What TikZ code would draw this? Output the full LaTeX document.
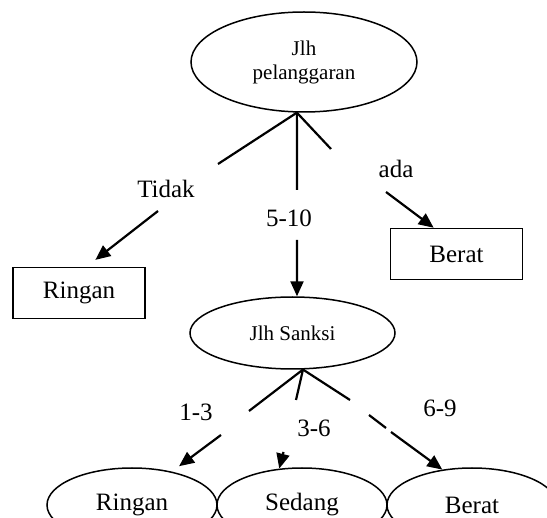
\documentclass[tikz,border=0pt]{standalone}
\usepackage{fontspec}
\setmainfont{Liberation Serif}
\usetikzlibrary{shapes.geometric,arrows.meta}
\begin{document}
\begin{tikzpicture}[x=0.5pt,y=-0.5pt,line cap=butt,line join=miter,>={Triangle[length=7.5pt,width=6.5pt]},font=\fontsize{12.5}{15}\selectfont]
	\tikzset{elips/.style={draw,ellipse,line width=0.75pt,inner sep=0pt},
		kotak/.style={draw,rectangle,line width=0.75pt,minimum width=66pt,minimum height=25.5pt},
		garis/.style={line width=1.1pt},
		kecil/.style={font=\fontsize{10.5}{12}\selectfont}
	}
	\useasboundingbox (0,0) rectangle (547,518);
	\clip (0,0) rectangle (547,518);
	\node[elips,kecil,align=center,minimum width=113pt,minimum height=50pt] (pel) at (304,62) {Jlh\\pelanggaran};
	\node[kotak] (ringanA) at (79,293) {Ringan};
	\node[kotak] (beratA) at (456.5,254) {Berat};
	\node[elips,kecil,minimum width=102.5pt,minimum height=36pt] (sanksi) at (292.5,333) {Jlh Sanksi};
	\foreach \nm/\xx/\teks in {ringanB/132/Ringan, sedang/302/Sedang, beratB/472/Berat}{
		\node[elips,minimum width=85pt,minimum height=37pt] (\nm) at (\xx,505) {\teks};
	}
	% label cabang
	\node[anchor=base] (tidak) at (166,198) {Tidak};
	\node[anchor=base] (ada) at (396,178) {ada};
	\node[anchor=base] (lima) at (289,227) {5-10};
	\node[anchor=base] (satu) at (196,421) {1-3};
	\node[anchor=base] (tiga) at (314,437) {3-6};
	\node[anchor=base] (enam) at (440,417) {6-9};
	% cabang atas
	\coordinate (k1) at (218,164);
	\coordinate (k2) at (297,190);
	\coordinate (k3) at (331,149);
	\coordinate (k4) at (158,211);
	\coordinate (k5) at (297,240);
	\coordinate (k6) at (386,192);
	\foreach \k in {k1,k2,k3}{
		\draw[garis] (pel.262) -- (\k);
	}
	\draw[garis,->,shorten >=5.6pt] (k4) -- (ringanA.74);
	\draw[garis,->] (k5) -- (sanksi.83);
	\draw[garis,->] (k6) -- (beratA.131);
	% cabang bawah
	\coordinate (b1) at (249,411);
	\coordinate (b2) at (296,400);
	\coordinate (b3) at (350,400);
	\coordinate (b4) at (221,435);
	\coordinate (b5) at (283.5,452);
	\coordinate (b6) at (369,415);
	\coordinate (b7) at (386,428);
	\coordinate (b8) at (391,432);
	\foreach \k in {b1,b2,b3}{
		\draw[garis] (sanksi.286) -- (\k);
	}
	\draw[garis] (b6) -- (b7);
	\draw[garis,->,shorten >=4.5pt] (b4) -- (ringanB.40);
	\draw[garis,->] (b5) -- (sedang.122);
	\draw[garis,->] (b8) -- (beratB.130);
\end{tikzpicture}
\end{document}
